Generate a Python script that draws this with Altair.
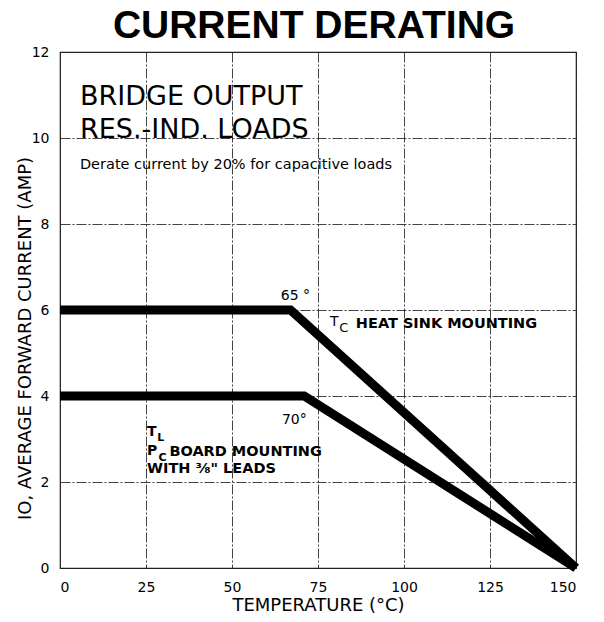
import altair as alt
import pandas as pd

# Derating curves (as drawn)
temp_heat_sink = [0, 67, 150]
current_heat_sink = [6, 6, 0]
temp_pc_board = [0, 71, 150]
current_pc_board = [4, 4, 0]

x_ticks = [0, 25, 50, 75, 100, 125, 150]
y_ticks = [0, 2, 4, 6, 8, 10, 12]

chart_title = ["CURRENT DERATING"]

# Annotations (regular weight)
reg_text = ["BRIDGE OUTPUT", "RES.-IND. LOADS", "Derate current by 20% for capacitive loads",
            "65 °", "70°", "T", "C"]
reg_x = [5.8, 5.8, 5.8, 64.2, 64.5, 78.5, 81.2]
reg_y = [10.77, 10.0, 9.28, 6.23, 3.35, 5.63, 5.49]
reg_size = [27, 27, 14.5, 14, 14, 14, 13]

# Annotations (bold)
bold_text = ["HEAT SINK MOUNTING", "T", "L", "P", "C", "BOARD MOUNTING", "WITH ⅜\" LEADS"]
bold_x = [86.0, 25.3, 28.3, 25.3, 28.6, 31.8, 25.3]
bold_y = [5.58, 3.07, 2.95, 2.63, 2.49, 2.60, 2.21]
bold_size = [14.5, 14, 11, 14, 11, 14.5, 14.5]

curves = pd.DataFrame({
    "temp": temp_heat_sink + temp_pc_board,
    "current": current_heat_sink + current_pc_board,
    "curve": ["Heat sink"] * len(temp_heat_sink) + ["PC board"] * len(temp_pc_board),
})
reg_df = pd.DataFrame({"t": reg_text, "x": reg_x, "y": reg_y, "s": reg_size})
bold_df = pd.DataFrame({"t": bold_text, "x": bold_x, "y": bold_y, "s": bold_size})
title_df = pd.DataFrame({"t": chart_title})

xs = alt.Scale(domain=[0, 150], nice=False)
ys = alt.Scale(domain=[0, 12], nice=False)

lines = alt.Chart(curves).mark_line(
    color="black", strokeWidth=9, strokeJoin="miter", strokeCap="butt"
).encode(
    x=alt.X("temp:Q", scale=xs,
            axis=alt.Axis(values=x_ticks, title="TEMPERATURE (°C)", labelPadding=12,
                          titleX=258, titleY=42, titleAlign="center",
                          titleBaseline="alphabetic")),
    y=alt.Y("current:Q", scale=ys,
            axis=alt.Axis(values=y_ticks, title="IO, AVERAGE FORWARD CURRENT (AMP)",
                          labelPadding=11, titleX=-35, titleY=286, titleAlign="center",
                          titleBaseline="middle", titleAngle=-90)),
    detail="curve:N",
)

reg = alt.Chart(reg_df).mark_text(
    align="left", baseline="alphabetic", font="DejaVu Sans", color="black"
).encode(
    x=alt.X("x:Q", scale=xs), y=alt.Y("y:Q", scale=ys),
    text="t:N", size=alt.Size("s:Q", scale=None),
)

bold = alt.Chart(bold_df).mark_text(
    align="left", baseline="alphabetic", font="DejaVu Sans", fontWeight="bold", color="black"
).encode(
    x=alt.X("x:Q", scale=xs), y=alt.Y("y:Q", scale=ys),
    text="t:N", size=alt.Size("s:Q", scale=None),
)

title = alt.Chart(title_df).mark_text(
    align="center", baseline="alphabetic", font="Liberation Sans", fontWeight=900,
    fontSize=39, color="black"
).encode(
    x=alt.value(254), y=alt.value(-14), text="t:N",
)

chart = alt.layer(lines, reg, bold, title).properties(
    width=516, height=516,
    autosize=alt.AutoSizeParams(type="none"),
    padding={"left": 52, "top": 44, "right": 20, "bottom": 46},
).configure_view(
    stroke="#222", strokeWidth=1.2
).configure_axis(
    grid=True, gridColor="#222", gridWidth=1, gridDash=[10, 2, 2, 2], gridOpacity=0.85,
    domain=False, ticks=False,
    labelFont="DejaVu Sans", labelFontSize=14, labelColor="black",
    titleFont="DejaVu Sans", titleFontSize=18, titleFontWeight="normal", titleColor="black",
)

chart.save("out.html", embed_options={"renderer": "svg", "actions": False})
